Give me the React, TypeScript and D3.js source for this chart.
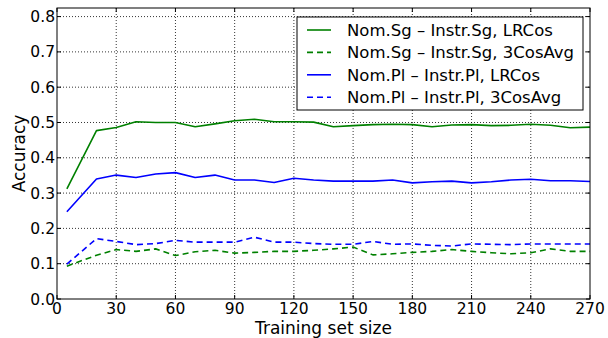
import * as d3 from 'd3';

// training set sizes on the x axis
const sizes = [5, 20, 30, 40, 50, 60, 70, 80, 90, 100, 110, 120, 130, 140, 150, 160, 170, 180, 190, 200, 210, 220, 230, 240, 250, 260, 270];

const sgLRCos = [0.312, 0.477, 0.486, 0.502, 0.5, 0.5, 0.488, 0.496, 0.505, 0.509, 0.502, 0.502, 0.501, 0.488, 0.491, 0.494, 0.495, 0.494, 0.488, 0.493, 0.494, 0.491, 0.492, 0.495, 0.492, 0.485, 0.487];
const sgCosAvg = [0.093, 0.124, 0.14, 0.135, 0.142, 0.123, 0.134, 0.138, 0.13, 0.132, 0.135, 0.135, 0.138, 0.142, 0.147, 0.125, 0.128, 0.132, 0.135, 0.14, 0.135, 0.131, 0.128, 0.131, 0.142, 0.135, 0.135];
const plLRCos = [0.247, 0.34, 0.351, 0.344, 0.354, 0.358, 0.344, 0.351, 0.337, 0.337, 0.33, 0.342, 0.337, 0.334, 0.334, 0.334, 0.337, 0.329, 0.332, 0.334, 0.329, 0.332, 0.337, 0.339, 0.335, 0.335, 0.333];
const plCosAvg = [0.099, 0.171, 0.163, 0.154, 0.157, 0.166, 0.161, 0.161, 0.161, 0.175, 0.161, 0.161, 0.157, 0.155, 0.155, 0.163, 0.155, 0.156, 0.152, 0.15, 0.156, 0.155, 0.154, 0.156, 0.156, 0.156, 0.156];

const xTicks = [0, 30, 60, 90, 120, 150, 180, 210, 240, 270];
const yTicks = [0, 0.1, 0.2, 0.3, 0.4, 0.5, 0.6, 0.7, 0.8];

const series = [
  { label: 'Nom.Sg – Instr.Sg, LRCos', values: sgLRCos, color: '#008000', dash: '' },
  { label: 'Nom.Sg – Instr.Sg, 3CosAvg', values: sgCosAvg, color: '#008000', dash: '6,4' },
  { label: 'Nom.Pl – Instr.Pl, LRCos', values: plLRCos, color: '#0000ff', dash: '' },
  { label: 'Nom.Pl – Instr.Pl, 3CosAvg', values: plCosAvg, color: '#0000ff', dash: '6,4' },
];

const W = 608;
const H = 338;
const left = 57, right = 590, top = 8, bottom = 299;
const font = '"DejaVu Sans", Verdana, sans-serif';

export default function App() {
  const x = d3.scaleLinear().domain([0, 270]).range([left, right]);
  const y = d3.scaleLinear().domain([0, 0.8243]).range([bottom, top]);
  const line = d3.line<number>().x((_, i) => x(sizes[i])).y(d => y(d));

  return (
    <svg width={W} height={H} style={{ position: 'absolute', left: 0, top: 0, background: '#fff' }} fontFamily={font}>
      {/* grid */}
      {xTicks.slice(1, -1).map(t => (
        <line key={'gx' + t} x1={x(t)} x2={x(t)} y1={top} y2={bottom} stroke="#000" strokeWidth={0.8} strokeDasharray="1,2" />
      ))}
      {yTicks.slice(1).map(t => (
        <line key={'gy' + t} x1={left} x2={right} y1={y(t)} y2={y(t)} stroke="#000" strokeWidth={0.8} strokeDasharray="1,2" />
      ))}

      {/* lines */}
      {series.map(s => (
        <path key={s.label} d={line(s.values) || ''} fill="none" stroke={s.color} strokeWidth={1.6}
          strokeDasharray={s.dash || undefined} strokeLinejoin="round" />
      ))}

      {/* ticks */}
      {xTicks.map(t => (
        <g key={'tx' + t}>
          <line x1={x(t)} x2={x(t)} y1={bottom} y2={bottom - 4} stroke="#000" />
          <line x1={x(t)} x2={x(t)} y1={top} y2={top + 4} stroke="#000" />
          <text x={x(t)} y={314} textAnchor="middle" fontSize={15.5}>{t}</text>
        </g>
      ))}
      {yTicks.map(t => (
        <g key={'ty' + t}>
          <line x1={left} x2={left + 4} y1={y(t)} y2={y(t)} stroke="#000" />
          <line x1={right} x2={right - 4} y1={y(t)} y2={y(t)} stroke="#000" />
          <text x={55} y={y(t)} dy="0.36em" textAnchor="end" fontSize={15.5}>{t.toFixed(1)}</text>
        </g>
      ))}

      {/* frame */}
      <rect x={left} y={top} width={right - left} height={bottom - top} fill="none" stroke="#000" strokeWidth={1} />

      {/* axis titles */}
      <text x={(left + right) / 2} y={334} textAnchor="middle" fontSize={17}>Training set size</text>
      <text transform={`translate(19,${(top + bottom) / 2}) rotate(-90)`} textAnchor="middle" dy="0.35em" fontSize={17}>Accuracy</text>

      {/* legend */}
      <g>
        <rect x={297} y={17} width={286} height={93} fill="#fff" stroke="#000" strokeWidth={1} />
        {series.map((s, i) => {
          const ly = 30 + i * 22.4;
          return (
            <g key={'lg' + i}>
              <line x1={307} x2={331} y1={ly} y2={ly} stroke={s.color} strokeWidth={1.6} strokeDasharray={s.dash || undefined} />
              <text x={347} y={ly} dy="0.36em" fontSize={16.5}>{s.label}</text>
            </g>
          );
        })}
      </g>
    </svg>
  );
}
